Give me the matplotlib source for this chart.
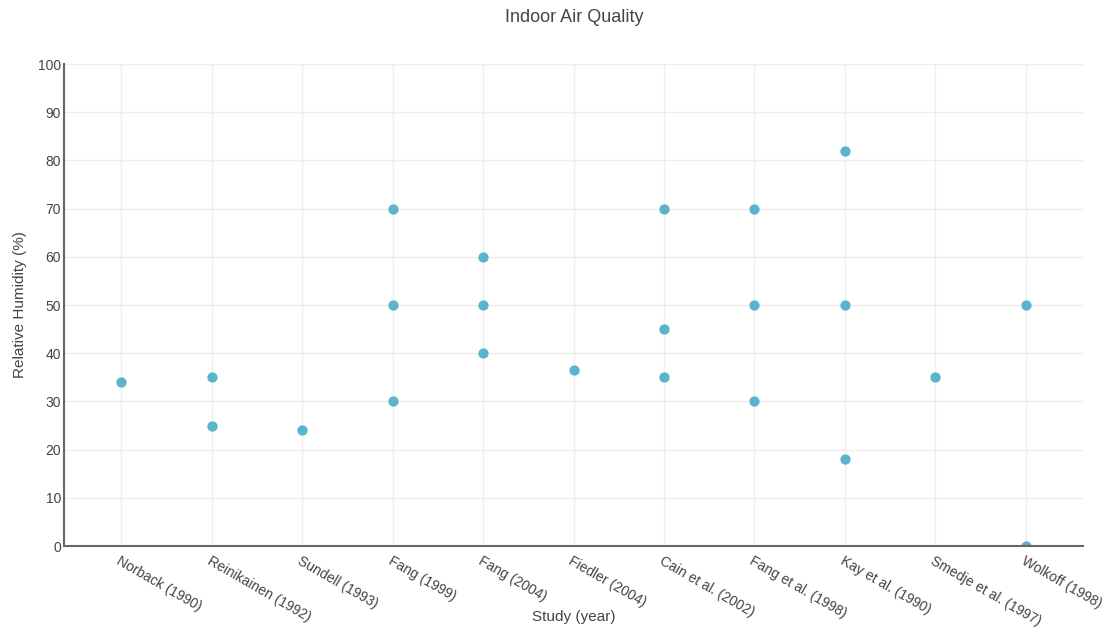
import matplotlib.pyplot as plt

plt.rcParams["font.family"] = ["Liberation Sans", "DejaVu Sans"]

studies = ["Norback (1990)", "Reinikainen (1992)", "Sundell (1993)", "Fang (1999)",
           "Fang (2004)", "Fiedler (2004)", "Cain et al. (2002)", "Fang et al. (1998)",
           "Kay et al. (1990)", "Smedje et al. (1997)", "Wolkoff (1998)"]
# relative humidity values reported per study
humidity = [[34], [35, 25], [24], [70, 50, 30], [60, 50, 40], [36.5],
            [70, 45, 35], [70, 50, 30], [82, 50, 18], [35], [50, 0]]

xs, ys = [], []
for i, vals in enumerate(humidity):
    for v in vals:
        xs.append(i)
        ys.append(v)

W, H = 1109, 632
fig = plt.figure(figsize=(W / 100, H / 100), dpi=100)
ax = fig.add_axes([64 / W, 1 - 546 / H, (1083 - 64) / W, (546 - 64) / H])

ax.scatter(xs, ys, s=55, color="#5ab4cc", zorder=3, linewidths=0)

ax.set_xlim(-0.63, len(studies) - 1 + 0.63)
ax.set_ylim(0, 100)
ax.set_yticks(range(0, 101, 10))
ax.set_xticks(range(len(studies)))
ax.set_xticklabels(studies, rotation=-30, ha="left", va="top", rotation_mode="anchor",
                   fontsize=10, color="#444444")
ax.tick_params(axis="both", length=0, labelsize=10, labelcolor="#444444")
ax.tick_params(axis="x", pad=6)
ax.tick_params(axis="y", pad=2)

ax.grid(True, color="#eeeeee", linewidth=1)
ax.set_axisbelow(True)
for s in ["top", "right"]:
    ax.spines[s].set_visible(False)
for s in ["left", "bottom"]:
    ax.spines[s].set_color("#666666")
    ax.spines[s].set_linewidth(1.5)
    ax.spines[s].set_zorder(4)

fig.text(20 / W, 1 - 305 / H, "Relative Humidity (%)", rotation=90, fontsize=11,
         color="#444444", ha="center", va="center")
fig.text(574 / W, 1 - 617 / H, "Study (year)", fontsize=11, color="#444444",
         ha="center", va="center")
fig.text(574 / W, 1 - 17 / H, "Indoor Air Quality", fontsize=13, color="#444444",
         ha="center", va="center")

fig.savefig("out.png", dpi=100)
